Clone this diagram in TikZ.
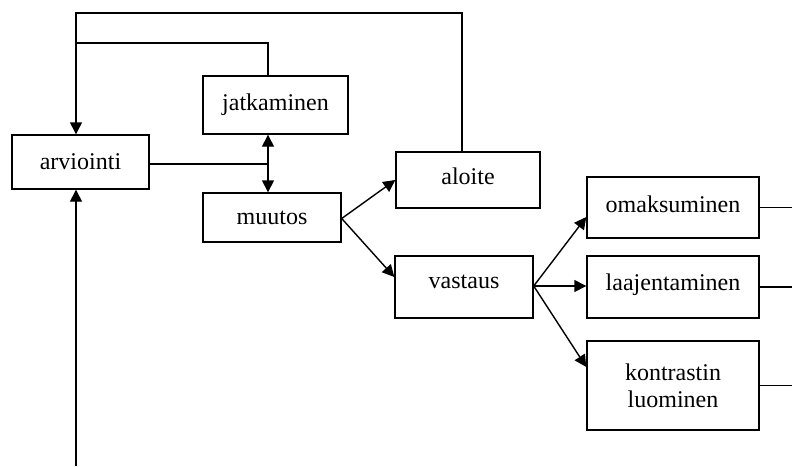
\documentclass[tikz,border=0pt]{standalone}
\usepackage{fontspec}
\setmainfont{Liberation Serif}
\usetikzlibrary{arrows.meta,calc}
\begin{document}
\begin{tikzpicture}[x=0.5pt,y=-0.5pt,
  box/.style={draw,line width=0.7pt,inner sep=0pt,align=center,font=\fontsize{12}{13.5}\selectfont},
  conn/.style={line width=0.7pt},
  arr/.style={conn,-{Triangle[length=6pt,width=6pt]}},
  darr/.style={conn,{Triangle[length=6pt,width=6pt]}-{Triangle[length=6pt,width=6pt]}}]
\useasboundingbox (0,0) rectangle (792,466);
\node[box,minimum width=68.5pt,minimum height=27pt] (arv) at (80.5,162) {arviointi};
\node[box,minimum width=72.5pt,minimum height=29pt] (jat) at (275.5,105) {jatkaminen};
\node[box,minimum width=69pt,minimum height=24.5pt] (muu) at (272,217.5) {muutos};
\node[box,minimum width=72pt,minimum height=28pt,text depth=4pt] (alo) at (468,180) {aloite};
\node[box,minimum width=69pt,minimum height=31pt,text depth=5pt] (vas) at (464,287) {vastaus};
\node[box,minimum width=86pt,minimum height=30.5pt,text depth=3pt] (oma) at (673,207.5) {omaksuminen};
\node[box,minimum width=86pt,minimum height=31pt,text depth=4.5pt] (laa) at (673,287) {laajentaminen};
\node[box,minimum width=86pt,minimum height=44.5pt] (kon) at (673,385.5) {kontrastin\\luominen};
\coordinate (top) at (76,13);
\coordinate (mid) at (76,43);
\coordinate (bot) at (76,466);
\coordinate (dj) at (268,0);
\coordinate (ao) at (462,0);
\coordinate (re) at (792,0);
% feedback loops
\draw[arr] (alo.north -| ao) |- (top) -- (arv.north -| top);
\draw[conn] (jat.north -| dj) |- (mid);
\draw[arr] (bot) -- (arv.south -| bot);
\draw[conn] (arv.east |- 0,164) -- (268,164);
\draw[darr] (jat.south -| dj) -- (muu.north -| dj);
% muutos branches
\draw[arr] ($(muu.east)+(0,1)$) -- ($(alo.west)+(0,0)$);
\draw[arr] ($(muu.east)+(0,1)$) -- ($(vas.west)+(0,-10)$);
% vastaus branches
\draw[arr] ($(vas.east)+(0,-1)$) -- ($(oma.west)+(0,9.5)$);
\draw[arr] ($(vas.east)+(0,-1)$) -- ($(laa.west)+(0,-1)$);
\draw[arr] ($(vas.east)+(0,-1)$) -- ($(kon.west)+(0,-18.5)$);
% outgoing lines
\draw[conn] (oma.east) -- (oma.east -| re);
\draw[conn] (laa.east) -- (laa.east -| re);
\draw[conn] (kon.east) -- (kon.east -| re);
\end{tikzpicture}
\end{document}
